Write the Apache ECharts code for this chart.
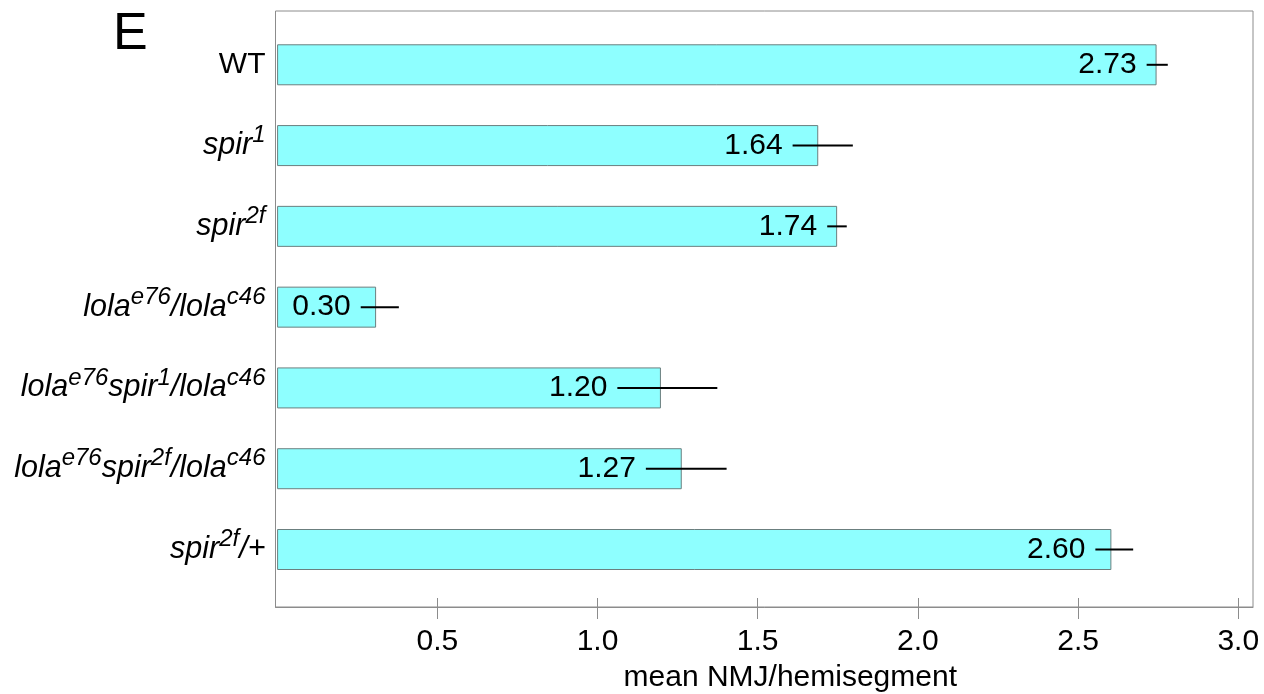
<!DOCTYPE html>
<html>
<head>
<meta charset="utf-8">
<script src="https://cdn.jsdelivr.net/npm/echarts@6/dist/echarts.min.js"></script>
<style>
html,body{margin:0;padding:0;background:#fff;}
#chart{width:1264px;height:694px;}
</style>
</head>
<body>
<div id="chart"></div>
<script>
const categories = ['WT', 'spir1', 'spir2f', 'lolae76/lolac46', 'lolae76spir1/lolac46', 'lolae76spir2f/lolac46', 'spir2f/+'];
const categoryLabels = [
  '{n|WT}',
  '{i|spir}{s|1}',
  '{i|spir}{s|2f}',
  '{i|lola}{s|e76}{i|/lola}{s|c46}',
  '{i|lola}{s|e76}{i|spir}{s|1}{i|/lola}{s|c46}',
  '{i|lola}{s|e76}{i|spir}{s|2f}{i|/lola}{s|c46}',
  '{i|spir}{s|2f}{i|/+}'
];
const barValues = [2.745, 1.689, 1.748, 0.309, 1.198, 1.263, 2.604];
const errLow = [2.714, 1.609, 1.717, 0.261, 1.062, 1.151, 2.554];
const errHigh = [2.780, 1.797, 1.778, 0.380, 1.374, 1.403, 2.672];
const valueLabels = ['2.73', '1.64', '1.74', '0.30', '1.20', '1.27', '2.60'];
const xTicks = [0.5, 1.0, 1.5, 2.0, 2.5, 3.0];
const xMin = -0.005, xMax = 3.046;

const FONT = '"Liberation Sans", Arial, Helvetica, sans-serif';
const chart = echarts.init(document.getElementById('chart'), null, {renderer: 'canvas'});

const errData = categories.map((c, i) => [errLow[i], i, errHigh[i]]);

const option = {
  backgroundColor: '#fff',
  animation: false,
  title: {
    text: 'E', left: 108, top: 4,
    textStyle: {fontSize: 52, fontWeight: 'normal', color: '#000', fontFamily: FONT}
  },
  grid: [
    {left: 275.5, right: 11, top: 11, bottom: 87, show: true, borderColor: '#8c8c8c', borderWidth: 1,
     backgroundColor: 'transparent', containLabel: false, outerBoundsMode: 'none'},
    {left: 275.5, right: 11, top: 24.4, bottom: 104.1, containLabel: false, outerBoundsMode: 'none'}
  ],
  xAxis: [
    {
      gridIndex: 0, type: 'value', min: xMin, max: xMax, position: 'bottom',
      axisLine: {show: true, lineStyle: {color: '#8c8c8c', width: 1}},
      axisTick: {show: true, inside: false, length: 12, customValues: xTicks, lineStyle: {color: '#8c8c8c', width: 1}},
      axisLabel: {show: true, customValues: xTicks, margin: 20, fontSize: 30, color: '#000', fontFamily: FONT,
        formatter: v => v.toFixed(1)},
      splitLine: {show: false},
      name: 'mean NMJ/hemisegment', nameLocation: 'middle', nameGap: 56, nameMoveOverlap: false,
      nameTextStyle: {fontSize: 30, color: '#000', fontFamily: FONT, padding: [0, 0, 0, 52]}
    },
    {
      gridIndex: 0, type: 'value', min: xMin, max: xMax, position: 'bottom',
      axisLine: {show: false},
      axisTick: {show: true, inside: true, length: 9, customValues: xTicks, lineStyle: {color: '#8c8c8c', width: 1}},
      axisLabel: {show: false},
      splitLine: {show: false}
    },
    {
      gridIndex: 1, type: 'value', min: xMin, max: xMax, show: false
    }
  ],
  yAxis: [
    {gridIndex: 0, type: 'value', show: false},
    {
      gridIndex: 1, type: 'category', data: categories, inverse: true,
      axisLine: {show: false}, axisTick: {show: false},
      axisLabel: {
        margin: 10, color: '#000',
        formatter: (v, idx) => categoryLabels[idx],
        rich: {
          n: {fontSize: 30, lineHeight: 30, fontFamily: FONT, color: '#000', verticalAlign: 'bottom'},
          i: {fontSize: 30.5, lineHeight: 30, fontStyle: 'italic', fontFamily: FONT, color: '#000', verticalAlign: 'bottom'},
          s: {fontSize: 24, lineHeight: 24, fontStyle: 'italic', fontFamily: FONT, color: '#000', verticalAlign: 'bottom', padding: [0, 0, 13, 0]}
        }
      }
    }
  ],
  series: [
    {
      type: 'bar', xAxisIndex: 2, yAxisIndex: 1, data: barValues, barWidth: 41,
      itemStyle: {color: '#8effff', borderColor: '#6b7f7f', borderWidth: 1},
      z: 2
    },
    {
      type: 'custom', xAxisIndex: 2, yAxisIndex: 1, data: errData, z: 3,
      encode: {x: [0, 2], y: 1},
      renderItem: function (params, api) {
        const i = api.value(1);
        const lo = api.coord([api.value(0), i]);
        const hi = api.coord([api.value(2), i]);
        return {
          type: 'group',
          children: [
            {type: 'line', shape: {x1: lo[0], y1: lo[1], x2: hi[0], y2: hi[1]},
             style: {stroke: '#000', lineWidth: 2}},
            {type: 'text', style: {x: lo[0] - 10, y: lo[1], text: valueLabels[params.dataIndex],
              align: 'right', verticalAlign: 'middle', fontSize: 30, fontFamily: FONT, fill: '#000'}}
          ]
        };
      }
    }
  ]
};
chart.setOption(option);
</script>
</body>
</html>
